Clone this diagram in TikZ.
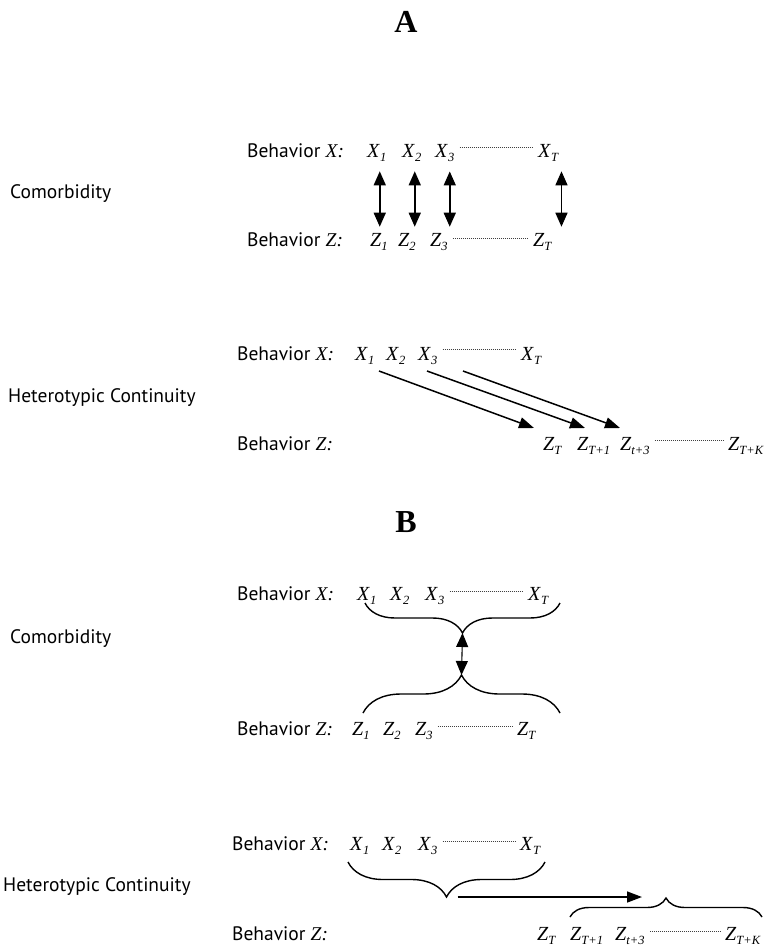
\documentclass[tikz,border=0pt]{standalone}
\usepackage{fontspec}
\setmainfont{Liberation Serif}
\newfontfamily\lblfont{PT Sans}
\usetikzlibrary{positioning,calc,arrows.meta}
\usetikzlibrary{decorations.pathreplacing}

\newcommand{\vsub}[2]{\textit{#1}\raisebox{-0.45ex}{\fontsize{12.5}{12.5}\selectfont\textit{#2}}}

\tikzset{
  lbl/.style={font=\lblfont\fontsize{19.5}{22}\selectfont, inner sep=0pt, anchor=base west},
  var/.style={font=\fontsize{20}{22}\selectfont, inner sep=0pt, anchor=base west},
  ttl/.style={font=\bfseries\fontsize{32}{34}\selectfont, inner sep=0pt},
  dotline/.style={line width=0.6pt, dash pattern=on 0.8pt off 1.2pt, black!75},
  dbl/.style={{Triangle[width=12pt,length=14pt]}-{Triangle[width=12pt,length=14pt]}, line width=1.5pt},
  arr/.style={-{Triangle[width=11pt,length=15pt]}, line width=1.5pt},
  brc/.style={decorate, decoration={brace, amplitude=#1}, line width=1.4pt},
  brcm/.style={decorate, decoration={brace, mirror, amplitude=#1}, line width=1.4pt},
}

\begin{document}
\begin{tikzpicture}[x=1pt,y=-1pt]
    \useasboundingbox (0,0) rectangle (767,946);

    %% A
    \node[ttl] (ttlA) at (406,22) {A};

    % comorbidity
    \node[lbl] (comA) at (10,198) {Comorbidity};
    \node[lbl] (axlbl) at (247,157) {Behavior {\rmfamily\itshape X:}};
    \node[lbl] (azlbl) at (247,246) {Behavior {\rmfamily\itshape Z:}};
    \foreach \n/\p in {1/367, 2/402, 3/435, T/538}
        \node[var] (ax\n) at (\p,157) {\vsub{X}{\n}};
    \foreach \n/\p in {1/370, 2/398, 3/430, T/533}
        \node[var] (az\n) at (\p,246) {\vsub{Z}{\n}};
    \draw[dotline] ($(ax3.base east)+(5,-10)$) -- ($(axT.base west)+(-5,-10)$);
    \draw[dotline] ($(az3.base east)+(5,-8)$) -- ($(azT.base west)+(-5,-8)$);
    \foreach \n/\dx in {1/3, 2/3, 3/5, T/13}
        \draw[dbl, shorten <=10pt, shorten >=6pt] ([xshift=\dx pt]ax\n.south) -- ([xshift=\dx pt]ax\n.south |- az\n.north);

    % heterotypic continuity
    \node[lbl] (hetA) at (8,402) {Heterotypic Continuity};
    \node[lbl] (bxlbl) at (237,360) {Behavior {\rmfamily\itshape X:}};
    \node[lbl] (bzlbl) at (237,450) {Behavior {\rmfamily\itshape Z:}};
    \foreach \n/\p in {1/355, 2/386, 3/418, T/521}
        \node[var] (bx\n) at (\p,360) {\vsub{X}{\n}};
    \node[var] (bzT) at (543,450) {\vsub{Z}{T}};
    \node[var] (bzA) at (577,450) {\vsub{Z}{T+1}};
    \node[var] (bzB) at (620,450) {\vsub{Z}{t+3}};
    \node[var] (bzK) at (728,450) {\vsub{Z}{T+K}};
    \draw[dotline] ($(bx3.base east)+(5,-11)$) -- ($(bxT.base west)+(-5,-11)$);
    \draw[dotline] ($(bzB.base east)+(5,-10)$) -- ($(bzK.base west)+(-5,-10)$);
    \draw[arr] ($(bx1.base west)+(24,11)$) -- ($(bzT.base west)+(-9,-22)$);
    \draw[arr] ($(bx2.base west)+(41,11)$) -- ($(bzA.base west)+(8,-22)$);
    \draw[arr] ($(bx3.base west)+(45,11)$) -- ($(bzB.base west)+(0,-22)$);

    %% B
    \node[ttl] (ttlB) at (406,522) {B};

    % comorbidity
    \node[lbl] (comB) at (10,643) {Comorbidity};
    \node[lbl] (cxlbl) at (237,600) {Behavior {\rmfamily\itshape X:}};
    \node[lbl] (czlbl) at (237,735) {Behavior {\rmfamily\itshape Z:}};
    \foreach \n/\p in {1/357, 2/390, 3/425, T/528}
        \node[var] (cx\n) at (\p,600) {\vsub{X}{\n}};
    \foreach \n/\p in {1/352, 2/383, 3/415, T/517}
        \node[var] (cz\n) at (\p,735) {\vsub{Z}{\n}};
    \draw[dotline] ($(cx3.base east)+(5,-9)$) -- ($(cxT.base west)+(-5,-9)$);
    \draw[dotline] ($(cz3.base east)+(5,-9)$) -- ($(czT.base west)+(-5,-9)$);
    \coordinate (cbl) at ($(cx1.base west)+(8,3)$);
    \coordinate (cbr) at ($(cxT.base west)+(32,3)$);
    \coordinate (cdl) at ($(cz1.base west)+(11,-22)$);
    \coordinate (cdr) at ($(czT.base west)+(43,-22)$);
    \draw[brcm=30] (cbl) -- (cbr);
    \draw[brc=38] (cdl) -- (cdr);
    \draw[dbl, line width=1.1pt] ($(cbl)!0.5!(cbr)+(0,30)$) -- ($(cdl)!0.5!(cdr)+(0,-38)$);

    % heterotypic continuity
    \node[lbl] (hetB) at (3,891) {Heterotypic Continuity};
    \node[lbl] (dxlbl) at (232,850) {Behavior {\rmfamily\itshape X:}};
    \node[lbl] (dzlbl) at (232,940) {Behavior {\rmfamily\itshape Z:}};
    \foreach \n/\p in {1/350, 2/382, 3/418, T/520}
        \node[var] (dx\n) at (\p,850) {\vsub{X}{\n}};
    \node[var] (dzT) at (537,940) {\vsub{Z}{T}};
    \node[var] (dzA) at (570,940) {\vsub{Z}{T+1}};
    \node[var] (dzB) at (615,940) {\vsub{Z}{t+3}};
    \node[var] (dzK) at (725,940) {\vsub{Z}{T+K}};
    \draw[dotline] ($(dx3.base east)+(5,-9)$) -- ($(dxT.base west)+(-5,-9)$);
    \draw[dotline] ($(dzB.base east)+(5,-9)$) -- ($(dzK.base west)+(-5,-9)$);
    \coordinate (dbl) at ($(dx1.base west)+(-2,12)$);
    \coordinate (dbr) at ($(dxT.base west)+(25,12)$);
    \coordinate (del) at ($(dzA.base west)+(0,-23)$);
    \coordinate (der) at ($(dzK.base west)+(37,-23)$);
    \draw[brcm=35] (dbl) -- (dbr);
    \draw[brc=19] (del) -- (der);
    \draw[arr] ($(dbl)!0.5!(dbr)+(11,35)$) -- ($(del)!0.5!(der)+(-24,-20)$);
\end{tikzpicture}
\end{document}
